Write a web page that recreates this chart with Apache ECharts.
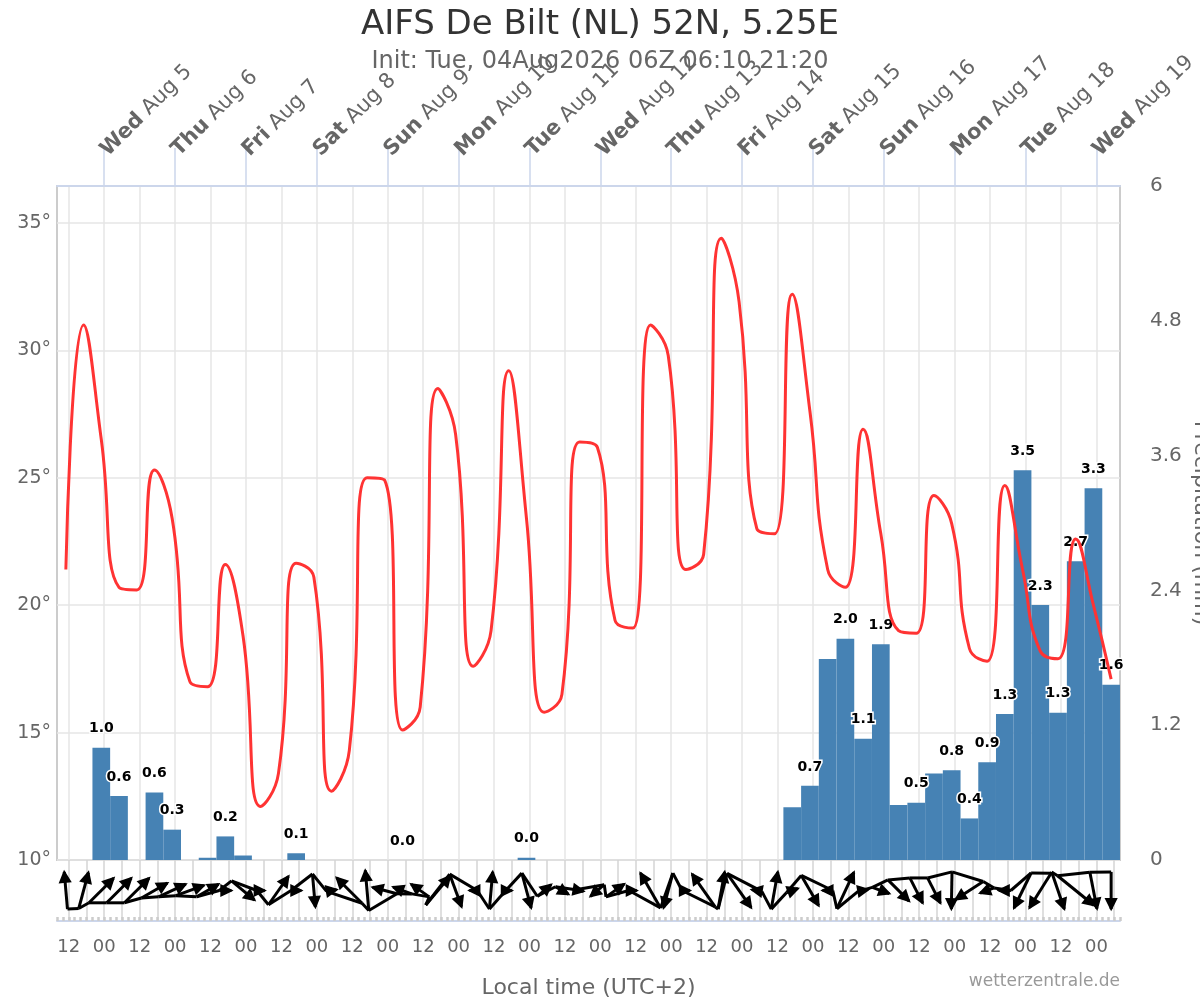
<!DOCTYPE html>
<html><head><meta charset="utf-8">
<script src="https://cdn.jsdelivr.net/npm/echarts@6/dist/echarts.min.js"></script>
<style>html,body{margin:0;padding:0;background:#fff}#c{width:1200px;height:1000px}</style>
</head><body><div id="c"></div>
<script>
const FONT = 'DejaVu Sans';
// hours since Tue Aug 4 00:00 local time (UTC+2), centre of each 6-hour forecast step
const stepHours = [11,17,23,29,35,41,47,53,59,65,71,77,83,89,95,101,107,113,119,125,
  131,137,143,149,155,161,167,173,179,185,191,197,203,209,215,221,227,233,239,245,
  251,257,263,269,275,281,287,293,299,305,311,317,323,329,335,341,347,353,359,365];
// 2 m temperature (°C)
const temperature = [21.4,31.0,26.5,20.7,20.6,25.3,23.4,17.0,16.8,21.6,
  18.8,12.1,13.4,21.65,21.1,12.7,14.3,25.0,24.9,15.1,
  16.0,28.5,26.7,17.6,19.0,29.2,23.4,15.8,16.5,26.4,
  26.2,19.4,19.1,31.0,29.8,21.4,22.0,34.4,31.9,23.0,
  22.8,32.2,27.6,21.4,20.7,26.9,22.8,19.0,18.9,24.3,
  23.2,18.3,17.8,24.7,21.4,18.2,17.9,22.6,20.0,17.1];
// 6-hourly precipitation (mm)
const precipitation = [0,0,1.0,0.57,0,0.6,0.27,0,0.02,0.21,
  0.04,0,0,0.06,0,0,0,0,0,0,
  0,0,0,0,0,0,0.02,0,0,0,
  0,0,0,0,0,0,0,0,0,0,
  0,0.47,0.66,1.79,1.97,1.08,1.92,0.49,0.51,0.77,
  0.8,0.37,0.87,1.3,3.47,2.27,1.31,2.66,3.31,1.56];
// steps whose value label is visible in the chart
const precipLabelIdx = [2,3,5,6,9,13,19,26,42,44,45,46,48,50,51,52,53,54,55,56,57,58,59];
// wind: direction the arrow points to (deg, 0 = up) and speed (m/s)
const windDir = [355,15,45,45,45,60,65,70,60,90,
  130,90,35,90,175,80,315,355,285,290,
  305,40,160,270,5,90,165,50,120,100,
  230,55,90,330,195,90,325,10,145,280,
  10,70,150,270,25,80,110,135,153,153,
  181,237,250,270,206,212,161,129,169,180];
const windSpeed = [6.2,6.2,5.8,5.8,5.8,5,5,5,4.2,2,
  5,1.3,5.8,1.7,5.5,1.7,6,6.7,4.2,3.3,
  3.7,6.3,5.8,1.3,6.2,1,6,3,2.5,1.3,
  3,3.7,1.3,6.7,6,1.3,6.7,6.3,7,1.7,
  6.3,2,5.8,1.7,6.7,1.7,3,5,4.7,4.7,
  6.2,5.5,2.5,2,6.5,6.8,6.5,7.8,6.2,6.2];
// top axis day labels (midnight of each day)
const dayNames = ['Wed','Thu','Fri','Sat','Sun','Mon','Tue','Wed','Thu','Fri','Sat','Sun','Mon','Tue','Wed'];
const dayDates = ['Aug 5','Aug 6','Aug 7','Aug 8','Aug 9','Aug 10','Aug 11','Aug 12','Aug 13','Aug 14','Aug 15','Aug 16','Aug 17','Aug 18','Aug 19'];
const hourStart = 8, hourEnd = 368;

const hourCats = [];
for (let h = hourStart; h <= hourEnd; h++) hourCats.push(String(h));

const ARROW_PX_PER_MS = 6;
function arrowGeom(i, api) {
  const c = api.coord([stepHours[i], 0.5]);
  const th = windDir[i] * Math.PI / 180;
  const L = windSpeed[i] * ARROW_PX_PER_MS;
  const ux = Math.sin(th), uy = -Math.cos(th);
  return {
    tail: [c[0] - ux * L / 2, c[1] - uy * L / 2],
    tip: [c[0] + ux * L / 2, c[1] + uy * L / 2],
    ux, uy
  };
}

const chart = echarts.init(document.getElementById('c'), null, {renderer: 'canvas'});
const gray = '#666666';
chart.setOption({
  animation: false,
  textStyle: {fontFamily: FONT},
  title: [
    {text: 'AIFS De Bilt (NL) 52N, 5.25E', left: 'center', top: 8, padding: 0,
      textStyle: {fontFamily: FONT, fontSize: 34, fontWeight: 'normal', color: '#333333'}},
    {text: 'Init: Tue, 04Aug2026 06Z 06:10 21:20', left: 'center', top: 50, padding: 0,
      textStyle: {fontFamily: FONT, fontSize: 24, fontWeight: 'normal', color: gray}},
    {text: 'wetterzentrale.de', right: 80, top: 973, padding: 0,
      textStyle: {fontFamily: FONT, fontSize: 17, fontWeight: 'normal', color: '#999999'}}
  ],
  grid: [
    {left: 57, right: 80, top: 186, height: 674, show: true, borderColor: '#cccccc', borderWidth: 2,
      containLabel: false, outerBoundsMode: 'none'},
    {left: 57, right: 80, top: 860, height: 61, containLabel: false, outerBoundsMode: 'none'}
  ],
  xAxis: [
    {type: 'value', gridIndex: 0, min: hourStart, max: hourEnd, show: false},
    {type: 'category', gridIndex: 0, position: 'top', data: hourCats, boundaryGap: false,
      axisLine: {show: true, lineStyle: {color: '#ccd6eb', width: 2}},
      axisTick: {show: true, interval: (i, v) => (+v) % 24 === 0, length: 38,
        lineStyle: {color: '#ccd6eb', width: 1.5}},
      axisLabel: {show: true, interval: (i, v) => (+v) % 24 === 0, rotate: -45, margin: 33,
        fontFamily: FONT, fontSize: 21, color: gray,
        formatter: v => { const d = (+v) / 24 - 1; return '{b|' + dayNames[d] + '} ' + dayDates[d]; },
        rich: {b: {fontFamily: FONT, fontSize: 21, fontWeight: 'bold', color: gray}}},
      splitLine: {show: true, interval: (i, v) => (+v) % 12 === 0,
        lineStyle: {color: '#e6e6e6', width: 1.5}}},
    {type: 'category', gridIndex: 1, position: 'bottom', data: hourCats, boundaryGap: false,
      name: 'Local time (UTC+2)', nameLocation: 'middle', nameGap: 56,
      nameTextStyle: {fontFamily: FONT, fontSize: 22, color: gray},
      axisLine: {show: true, lineStyle: {color: '#ccd6eb', width: 2}},
      axisTick: {show: true, inside: true, interval: (i, v) => (+v) % 2 === 0, length: 4,
        lineStyle: {color: '#cccccc', width: 2.5}},
      axisLabel: {show: true, interval: (i, v) => (+v) % 12 === 0, margin: 17,
        fontFamily: FONT, fontSize: 18, color: gray,
        formatter: v => ((+v) % 24 === 0 ? '00' : '12')},
      splitLine: {show: true, interval: (i, v) => (+v) % 6 === 0,
        lineStyle: {color: '#d4d4d4', width: 1.5}}},
    {type: 'value', gridIndex: 1, min: hourStart, max: hourEnd, show: false}
  ],
  yAxis: [
    {type: 'value', gridIndex: 0, min: 10, max: 36.45, interval: 5, position: 'left',
      axisLine: {show: false}, axisTick: {show: false},
      axisLabel: {formatter: '{value}°', showMaxLabel: false, margin: 6, fontFamily: FONT, fontSize: 19, color: gray},
      splitLine: {show: true, lineStyle: {color: '#e6e6e6', width: 1.5}}},
    {type: 'value', gridIndex: 0, min: 0, max: 6, interval: 1.2, position: 'right',
      name: 'Precipitation (mm)', nameLocation: 'middle', nameRotate: -90, nameGap: 70,
      nameMoveOverlap: false,
      nameTextStyle: {fontFamily: FONT, fontSize: 22, color: gray},
      axisLine: {show: false}, axisTick: {show: false},
      axisLabel: {margin: 30, fontFamily: FONT, fontSize: 20, color: gray,
        formatter: v => String(Math.round(v * 10) / 10)},
      splitLine: {show: false}},
    {type: 'value', gridIndex: 1, min: 0, max: 1, show: false}
  ],
  series: [
    {type: 'bar', name: 'Precipitation', xAxisIndex: 0, yAxisIndex: 1, z: 2,
      data: stepHours.map((h, i) => [h, precipitation[i]]),
      barWidth: 17.7, itemStyle: {color: '#4682b4'},
      label: {show: true, position: 'top', distance: 12, fontFamily: FONT, fontSize: 14,
        fontWeight: 'bold', color: '#000', textBorderColor: '#fff', textBorderWidth: 3,
        formatter: p => precipLabelIdx.includes(p.dataIndex) ? p.value[1].toFixed(1) : ''}},
    {type: 'line', name: 'Temperature', xAxisIndex: 0, yAxisIndex: 0, z: 3,
      data: stepHours.map((h, i) => [h, temperature[i]]),
      smooth: true, showSymbol: false, symbol: 'none',
      lineStyle: {color: '#ff3333', width: 3}},
    {type: 'custom', name: 'Wind', xAxisIndex: 3, yAxisIndex: 2, z: 4,
      data: stepHours.map((h, i) => [h, windDir[i], windSpeed[i]]),
      encode: {x: 0},
      renderItem: (params, api) => {
        const i = params.dataIndex;
        const g = arrowGeom(i, api);
        const px = -g.uy, py = g.ux;
        const hb = [g.tip[0] - g.ux * 10, g.tip[1] - g.uy * 10];
        const style = {stroke: '#000', lineWidth: 3, fill: null};
        const children = [
          {type: 'line', shape: {x1: g.tail[0], y1: g.tail[1], x2: g.tip[0], y2: g.tip[1]}, style},
          {type: 'polygon', shape: {points: [g.tip, [hb[0] + px * 5, hb[1] + py * 5], [hb[0] - px * 5, hb[1] - py * 5]]},
            style: {stroke: '#000', lineWidth: 2, fill: '#000'}}
        ];
        if (i < stepHours.length - 1) {
          const n = arrowGeom(i + 1, api);
          children.push({type: 'line', shape: {x1: g.tail[0], y1: g.tail[1], x2: n.tail[0], y2: n.tail[1]}, style});
        }
        return {type: 'group', children};
      }}
  ]
});
</script></body></html>
